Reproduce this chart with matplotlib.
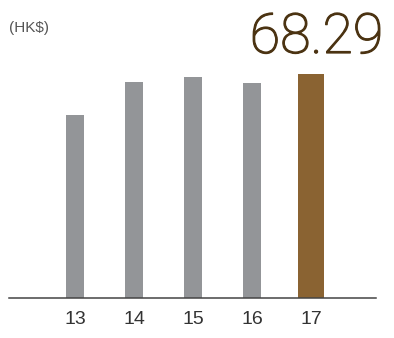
import matplotlib.pyplot as plt
import matplotlib.patheffects as pe

years = ['13', '14', '15', '16', '17']
values = [55.79, 65.85, 67.37, 65.55, 68.29]
colors = ['#939598', '#939598', '#939598', '#939598', '#8a6332']
widths = [0.305, 0.305, 0.305, 0.305, 0.44]

W, H = 394, 338
fig = plt.figure(figsize=(W / 100, H / 100), dpi=100)
ax = fig.add_axes([9 / W, 40 / H, 367 / W, 224 / H])

x = range(len(years))
ax.bar(x, values, width=widths, color=colors)
ax.set_xlim(-1.12, 5.1)
ax.set_ylim(0, max(values))

for s in ['top', 'right', 'left']:
    ax.spines[s].set_visible(False)
ax.spines['bottom'].set_color('#444444')
ax.spines['bottom'].set_linewidth(1.1)
ax.set_yticks([])
ax.set_xticks(list(x))
ax.set_xticklabels(years, fontsize=14, color='#333333', family='Liberation Sans')
ax.tick_params(axis='x', length=0, pad=9)

fig.text(9 / W, 1 - 32 / H, '(HK$)', fontsize=11, color='#555555',
         family='Liberation Sans', ha='left', va='baseline')
# latest year's value, light face thickened slightly
fig.text(383 / W, 1 - 53 / H, f'{values[-1]:.2f}', fontsize=40, color='#4b3312',
         family='Roboto', fontweight='light', ha='right', va='baseline',
         path_effects=[pe.withStroke(linewidth=0.9, foreground='#4b3312')])

fig.savefig('out.png', dpi=100)
